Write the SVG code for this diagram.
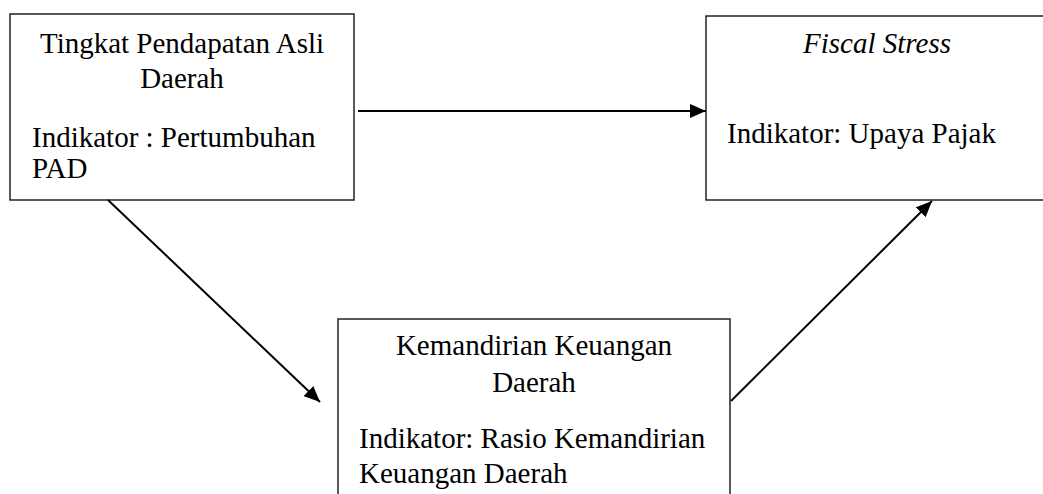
<svg xmlns="http://www.w3.org/2000/svg" width="1043" height="494" viewBox="0 0 1043 494">
<style>
.box{fill:#fff;stroke:#222;stroke-width:1.5}
.t{font-family:"Liberation Serif","Times New Roman",serif;font-size:29px;fill:#000}
.c{text-anchor:middle}
.conn{stroke:#000;stroke-width:2;fill:none}
</style>
<defs>
<marker id="ah" markerWidth="16" markerHeight="14" refX="16" refY="7" orient="auto" markerUnits="userSpaceOnUse">
<path d="M0,0 L16,7 L0,14 Z" fill="#000"/>
</marker>
</defs>
<rect width="1043" height="494" fill="#fff"/>
<g id="node-pad">
<rect class="box" x="10" y="14" width="344" height="186"/>
<text class="t c" x="182" y="53">Tingkat Pendapatan Asli</text>
<text class="t c" x="182" y="88">Daerah</text>
<text class="t" x="32" y="147">Indikator : Pertumbuhan</text>
<text class="t" x="32" y="178">PAD</text>
</g>
<g id="node-fiscal">
<rect class="box" x="706" y="16" width="345" height="184"/>
<text class="t c" x="877" y="53" font-style="italic">Fiscal Stress</text>
<text class="t" x="727" y="143">Indikator: Upaya Pajak</text>
</g>
<g id="node-kemandirian">
<rect class="box" x="338" y="319" width="392" height="190"/>
<text class="t c" x="534" y="355">Kemandirian Keuangan</text>
<text class="t c" x="534" y="392">Daerah</text>
<text class="t" x="359" y="448">Indikator: Rasio Kemandirian</text>
<text class="t" x="359" y="483">Keuangan Daerah</text>
</g>
<g id="connectors">
<line class="conn" x1="358" y1="111" x2="706" y2="111" marker-end="url(#ah)"/>
<line class="conn" x1="108" y1="200" x2="320" y2="402" marker-end="url(#ah)"/>
<line class="conn" x1="731" y1="401" x2="932" y2="201" marker-end="url(#ah)"/>
</g>
</svg>
